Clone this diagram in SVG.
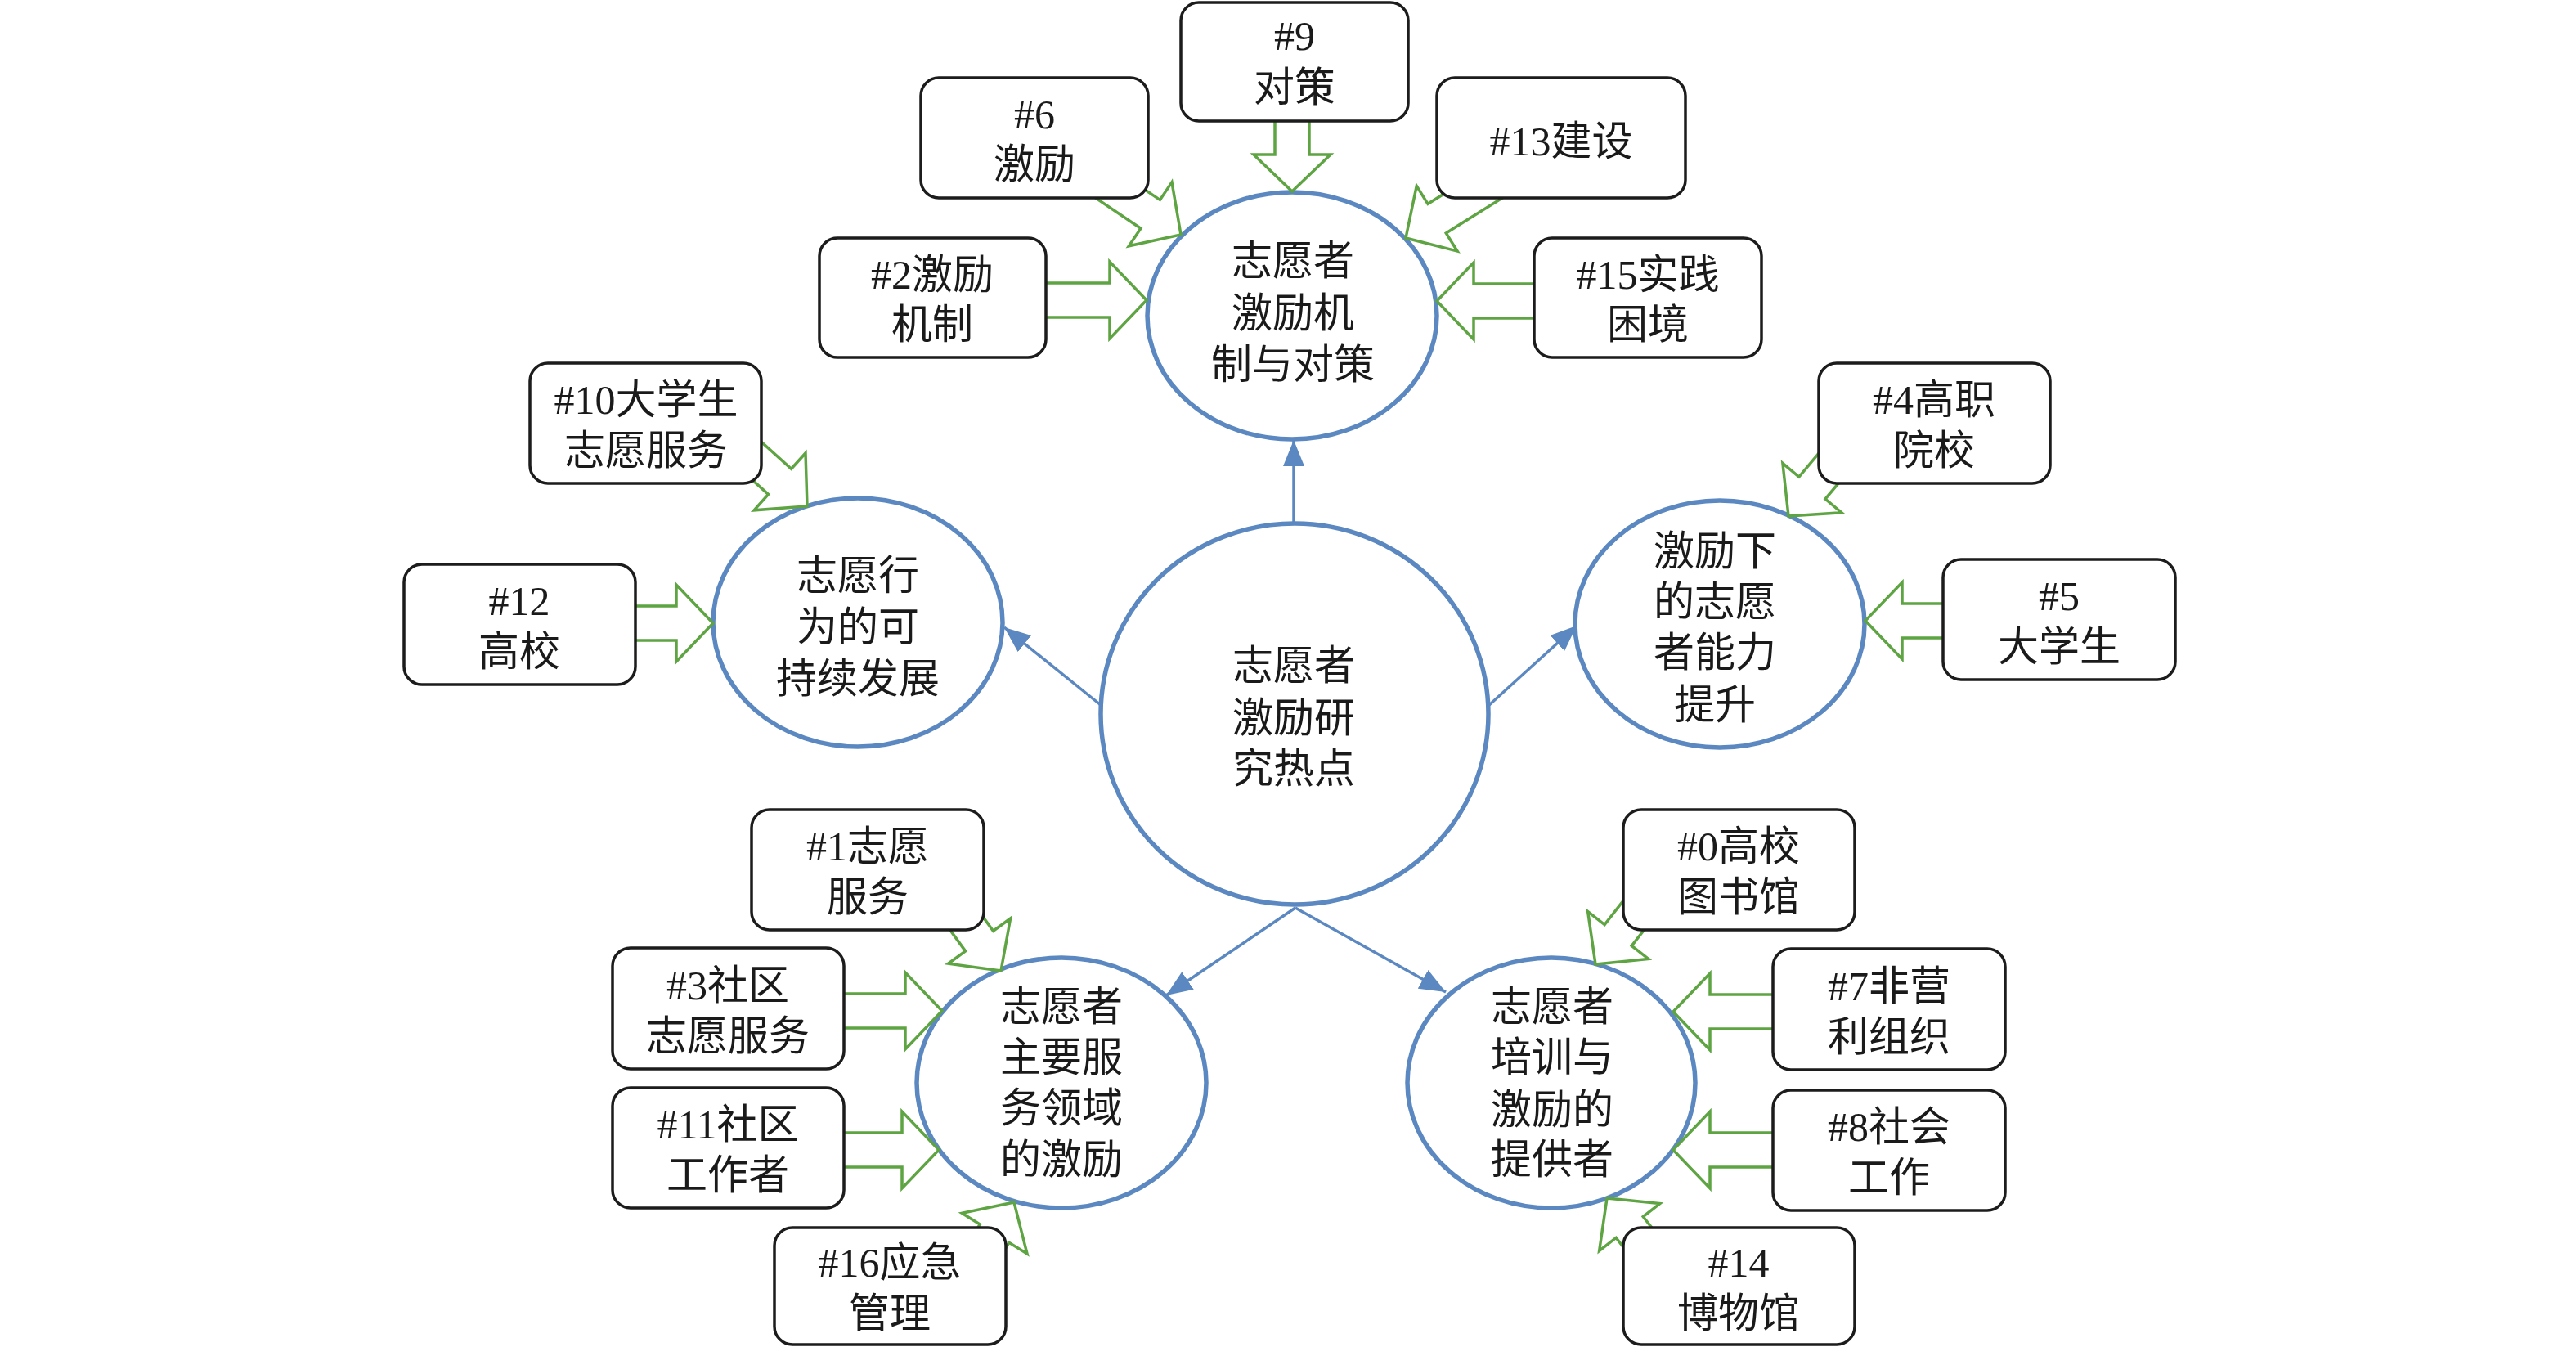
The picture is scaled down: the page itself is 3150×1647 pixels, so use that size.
<svg xmlns="http://www.w3.org/2000/svg" width="3150" height="1647" viewBox="0 0 3150 1647">
<style>
.ell{fill:#fff;stroke:#5b88c0;stroke-width:5.5}
.box{fill:#fff;stroke:#1c1c1c;stroke-width:3.5}
.ga{fill:#fff;stroke:#5ea443;stroke-width:3.5;stroke-linejoin:miter}
.bl{stroke:#5b88c0;stroke-width:3.5;fill:none}
text{font-family:"Liberation Serif","Noto Sans CJK SC",serif;font-size:50px;fill:#1a1a1a;text-anchor:middle}
</style>
<defs>
<marker id="ah" markerUnits="userSpaceOnUse" markerWidth="34" markerHeight="26" refX="32" refY="13" orient="auto">
<path d="M0,0 L32,13 L0,26 z" fill="#5b88c0"/>
</marker>
</defs>
<rect width="3150" height="1647" fill="#fff"/>

<g id="n-center"><ellipse class="ell" cx="1583" cy="873" rx="237" ry="233"/>
<text x="1582" y="831">志愿者</text><text x="1582" y="895">激励研</text><text x="1582" y="957">究热点</text></g>
<g id="n-top"><ellipse class="ell" cx="1580" cy="386" rx="177" ry="151"/>
<text x="1581" y="336">志愿者</text><text x="1581" y="400">激励机</text><text x="1581" y="463">制与对策</text></g>
<g id="n-left"><ellipse class="ell" cx="1049" cy="761" rx="177" ry="152"/>
<text x="1049" y="721">志愿行</text><text x="1049" y="784">为的可</text><text x="1049" y="847">持续发展</text></g>
<g id="n-right"><ellipse class="ell" cx="2103" cy="763" rx="177" ry="151"/>
<text x="2097" y="691">激励下</text><text x="2097" y="753">的志愿</text><text x="2097" y="815">者能力</text><text x="2097" y="879">提升</text></g>
<g id="n-bl"><ellipse class="ell" cx="1298" cy="1324" rx="177" ry="153"/>
<text x="1298" y="1248">志愿者</text><text x="1298" y="1310">主要服</text><text x="1298" y="1372">务领域</text><text x="1298" y="1435">的激励</text></g>
<g id="n-br"><ellipse class="ell" cx="1897" cy="1324" rx="176" ry="153"/>
<text x="1898" y="1248">志愿者</text><text x="1898" y="1310">培训与</text><text x="1898" y="1374">激励的</text><text x="1898" y="1435">提供者</text></g>

<g id="connectors">
<line class="bl" x1="1582" y1="640" x2="1582" y2="538" marker-end="url(#ah)"/>
<line class="bl" x1="1346" y1="862" x2="1228" y2="767" marker-end="url(#ah)"/>
<line class="bl" x1="1821" y1="862" x2="1928" y2="765" marker-end="url(#ah)"/>
<line class="bl" x1="1584" y1="1110" x2="1426" y2="1217" marker-end="url(#ah)"/>
<line class="bl" x1="1584" y1="1110" x2="1768" y2="1213" marker-end="url(#ah)"/>
<path class="ga" transform="translate(1580,234) rotate(90)" d="M0,0 L-45,-47 L-45,-21 L-90,-21 L-90,21 L-45,21 L-45,47 Z"/>
<path class="ga" transform="translate(1444,287) rotate(34)" d="M0,0 L-45,-47 L-45,-21 L-140,-21 L-140,21 L-45,21 L-45,47 Z"/>
<path class="ga" transform="translate(1719,291) rotate(148)" d="M0,0 L-45,-47 L-45,-21 L-140,-21 L-140,21 L-45,21 L-45,47 Z"/>
<path class="ga" transform="translate(1402,367)" d="M0,0 L-45,-47 L-45,-21 L-127,-21 L-127,21 L-45,21 L-45,47 Z"/>
<path class="ga" transform="translate(1757,368) rotate(180)" d="M0,0 L-45,-47 L-45,-21 L-123,-21 L-123,21 L-45,21 L-45,47 Z"/>
<path class="ga" transform="translate(987,619) rotate(42)" d="M0,0 L-45,-47 L-45,-21 L-140,-21 L-140,21 L-45,21 L-45,47 Z"/>
<path class="ga" transform="translate(872,762)" d="M0,0 L-45,-47 L-45,-21 L-99,-21 L-99,21 L-45,21 L-45,47 Z"/>
<path class="ga" transform="translate(2187,631) rotate(130)" d="M0,0 L-45,-47 L-45,-21 L-140,-21 L-140,21 L-45,21 L-45,47 Z"/>
<path class="ga" transform="translate(2281,759) rotate(180)" d="M0,0 L-45,-47 L-45,-21 L-97,-21 L-97,21 L-45,21 L-45,47 Z"/>
<path class="ga" transform="translate(1224,1187) rotate(54)" d="M0,0 L-45,-47 L-45,-21 L-140,-21 L-140,21 L-45,21 L-45,47 Z"/>
<path class="ga" transform="translate(1152,1236)" d="M0,0 L-45,-47 L-45,-21 L-124,-21 L-124,21 L-45,21 L-45,47 Z"/>
<path class="ga" transform="translate(1148,1406)" d="M0,0 L-45,-47 L-45,-21 L-120,-21 L-120,21 L-45,21 L-45,47 Z"/>
<path class="ga" transform="translate(1240,1470) rotate(-58)" d="M0,0 L-45,-47 L-45,-21 L-140,-21 L-140,21 L-45,21 L-45,47 Z"/>
<path class="ga" transform="translate(1951,1179) rotate(128)" d="M0,0 L-45,-47 L-45,-21 L-140,-21 L-140,21 L-45,21 L-45,47 Z"/>
<path class="ga" transform="translate(2046,1237) rotate(180)" d="M0,0 L-45,-47 L-45,-21 L-126,-21 L-126,21 L-45,21 L-45,47 Z"/>
<path class="ga" transform="translate(2046,1406) rotate(180)" d="M0,0 L-45,-47 L-45,-21 L-126,-21 L-126,21 L-45,21 L-45,47 Z"/>
<path class="ga" transform="translate(1965,1465) rotate(232)" d="M0,0 L-45,-47 L-45,-21 L-140,-21 L-140,21 L-45,21 L-45,47 Z"/>
</g>

<g id="n9"><rect class="box" x="1444" y="3" width="278" height="145" rx="22"/><text x="1583" y="61">#9</text><text x="1583" y="124">对策</text></g>
<g id="n6"><rect class="box" x="1126" y="95" width="278" height="147" rx="22"/><text x="1265" y="157">#6</text><text x="1265" y="218">激励</text></g>
<g id="n13"><rect class="box" x="1757" y="95" width="304" height="147" rx="22"/><text x="1909" y="190">#13建设</text></g>
<g id="n2"><rect class="box" x="1002" y="291" width="277" height="146" rx="22"/><text x="1140" y="353">#2激励</text><text x="1140" y="414">机制</text></g>
<g id="n15"><rect class="box" x="1876" y="291" width="278" height="146" rx="22"/><text x="2015" y="353">#15实践</text><text x="2015" y="414">困境</text></g>
<g id="n10"><rect class="box" x="648" y="444" width="283" height="147" rx="22"/><text x="790" y="506">#10大学生</text><text x="790" y="568">志愿服务</text></g>
<g id="n4"><rect class="box" x="2224" y="444" width="283" height="147" rx="22"/><text x="2365" y="506">#4高职</text><text x="2365" y="568">院校</text></g>
<g id="n12"><rect class="box" x="494" y="690" width="283" height="147" rx="22"/><text x="635" y="752">#12</text><text x="635" y="814">高校</text></g>
<g id="n5"><rect class="box" x="2376" y="684" width="284" height="147" rx="22"/><text x="2518" y="746">#5</text><text x="2518" y="808">大学生</text></g>
<g id="n1"><rect class="box" x="919" y="990" width="284" height="147" rx="22"/><text x="1061" y="1052">#1志愿</text><text x="1061" y="1114">服务</text></g>
<g id="n0"><rect class="box" x="1985" y="990" width="283" height="147" rx="22"/><text x="2126" y="1052">#0高校</text><text x="2126" y="1114">图书馆</text></g>
<g id="n3"><rect class="box" x="749" y="1159" width="283" height="148" rx="22"/><text x="890" y="1222">#3社区</text><text x="890" y="1284">志愿服务</text></g>
<g id="n7"><rect class="box" x="2168" y="1160" width="284" height="148" rx="22"/><text x="2310" y="1223">#7非营</text><text x="2310" y="1285">利组织</text></g>
<g id="n11"><rect class="box" x="749" y="1330" width="283" height="147" rx="22"/><text x="890" y="1392">#11社区</text><text x="890" y="1454">工作者</text></g>
<g id="n8"><rect class="box" x="2168" y="1333" width="284" height="147" rx="22"/><text x="2310" y="1395">#8社会</text><text x="2310" y="1457">工作</text></g>
<g id="n16"><rect class="box" x="947" y="1501" width="283" height="143" rx="22"/><text x="1088" y="1561">#16应急</text><text x="1088" y="1623">管理</text></g>
<g id="n14"><rect class="box" x="1985" y="1501" width="283" height="143" rx="22"/><text x="2126" y="1561">#14</text><text x="2126" y="1623">博物馆</text></g>
</svg>
